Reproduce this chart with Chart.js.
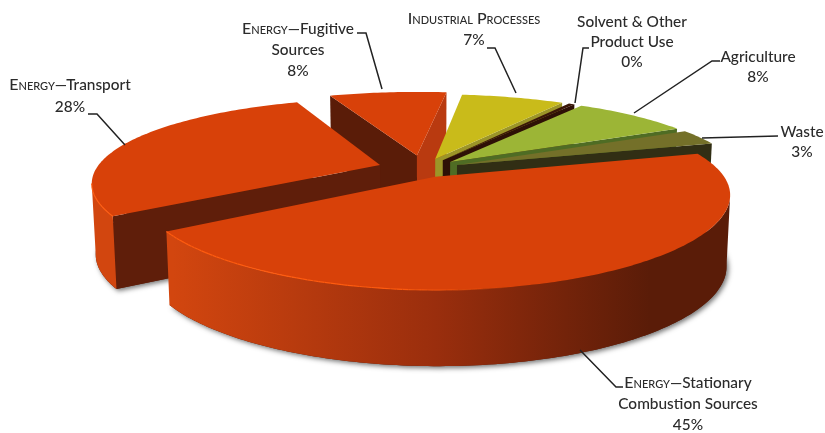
<!DOCTYPE html>
<html>
<head>
<meta charset="utf-8">
<title>Emissions by source</title>
<script src="https://cdn.jsdelivr.net/npm/chart.js@4/dist/chart.umd.min.js"></script>
<style>
  html, body { margin: 0; padding: 0; background: #fff; }
  canvas { display: block; }
</style>
</head>
<body>
<canvas id="sourcesPie" width="825" height="433"></canvas>
<script>
const categories = ['Energy—Stationary Combustion Sources', 'Energy—Transport', 'Energy—Fugitive Sources', 'Industrial Processes', 'Solvent & Other Product Use', 'Agriculture', 'Waste'];
const shares = [45, 28, 8, 7, 0.4, 8, 3];

// exploded distance of each slice, in hundredths of the radius
const explode = [10, 16, 17, 13, 13, 13, 13];

const topColors = ['#d84109', '#d84109', '#d84109', '#c9bb1a', '#3a1608', '#9cb536', '#747029'];
const startWallColors = ['#5a1c08', '#5f1e0a', '#5a1c08', '#8f8a2a', '#2e1006', '#46601f', '#312e14'];
const endWallColors = ['#5a1c08', '#5f1e0a', '#b93a10', '#9c9528', '#2e1006', '#4f6c24', '#312e14'];

// label block for each category: wrapped lines, centre x, first baseline, line step
const labelLines = [
    ['Energy—Stationary', 'Combustion Sources'],
    ['Energy—Transport'],
    ['Energy—Fugitive', 'Sources'],
    ['Industrial Processes'],
    ['Solvent & Other', 'Product Use'],
    ['Agriculture'],
    ['Waste']
];
const labelBoxes = [
    { x: 688, y: 388, step: 21 },
    { x: 70, y: 90, step: 22 },
    { x: 298, y: 34, step: 21 },
    { x: 474, y: 24, step: 21 },
    { x: 632, y: 27, step: 20 },
    { x: 758, y: 62, step: 20 },
    { x: 802, y: 137, step: 20 }
];
const smallCapsWords = ['Energy', 'Industrial Processes'];

const leaders = [
    [[623, 387], [616, 387], [580, 350]],
    [[88, 114], [97, 114], [125, 145]],
    [[357, 33], [366, 33], [382, 89]],
    [[487, 48], [495, 48], [516, 93]],
    [[589, 48], [583, 48], [575, 103]],
    [[720, 61], [712, 61], [634, 113]],
    [[778, 136], [702, 138]]
];

// tilt of the disc: screen half-axes at the centre, perspective strength, wall height
const AXIS_X = 284;
const AXIS_Y = 83.5;
const PERSPECTIVE_X = 0.19;
const PERSPECTIVE_Y = 0.227;
const WALL_HEIGHT = 70;

function project(arc, px, py, lower) {
    let dx = AXIS_X * px / (1 - PERSPECTIVE_X * py);
    let dy = AXIS_Y * py / (1 - PERSPECTIVE_Y * py);
    if (lower) {
        dx *= 0.988;
        dy += WALL_HEIGHT * (1 + 0.08 * py);
    }
    return { x: arc.x + dx, y: arc.y + dy };
}

function quad(ctx, a, b, c, d, color) {
    ctx.fillStyle = color;
    ctx.beginPath();
    ctx.moveTo(a.x, a.y);
    ctx.lineTo(b.x, b.y);
    ctx.lineTo(c.x, c.y);
    ctx.lineTo(d.x, d.y);
    ctx.closePath();
    ctx.fill();
}

function drawSlice(ctx, arc, index) {
    const mid = (arc.startAngle + arc.endAngle) / 2;
    const e = arc.options.offset / 100;
    const ox = e * Math.cos(mid);
    const oy = e * Math.sin(mid);
    const steps = Math.max(2, Math.ceil((arc.endAngle - arc.startAngle) * 180 / Math.PI));

    const top = [];
    const bottom = [];
    for (let i = 0; i <= steps; i++) {
        const a = arc.startAngle + (arc.endAngle - arc.startAngle) * i / steps;
        top.push(project(arc, ox + Math.cos(a), oy + Math.sin(a), false));
        bottom.push(project(arc, ox + Math.cos(a), oy + Math.sin(a), true));
    }
    const apexTop = project(arc, ox, oy, false);
    const apexBottom = project(arc, ox, oy, true);

    // soft shadow under the slab
    ctx.save();
    ctx.shadowColor = 'rgba(0,0,0,0.55)';
    ctx.shadowBlur = 5;
    ctx.shadowOffsetX = 2;
    ctx.shadowOffsetY = 2;
    ctx.fillStyle = endWallColors[index];
    ctx.beginPath();
    ctx.moveTo(apexBottom.x, apexBottom.y);
    bottom.forEach(p => ctx.lineTo(p.x, p.y));
    ctx.closePath();
    ctx.fill();
    ctx.restore();

    // only walls whose top edge runs right to left face the viewer
    const first = top[0];
    const last = top[steps];
    if (first.x < apexTop.x) {
        quad(ctx, apexTop, first, bottom[0], apexBottom, startWallColors[index]);
    }
    if (apexTop.x < last.x) {
        quad(ctx, last, apexTop, apexBottom, bottom[steps], endWallColors[index]);
    }

    // outer rim, darker from left to right
    let from = -1;
    let to = -1;
    for (let i = 0; i < steps; i++) {
        if (top[i + 1].x < top[i].x) {
            if (from < 0) from = i;
            to = i + 1;
        }
    }
    if (from >= 0) {
        const shade = ctx.createLinearGradient(173, 0, 650, 0);
        shade.addColorStop(0, '#d2460f');
        shade.addColorStop(0.55, '#9a2e0d');
        shade.addColorStop(1, '#5a1c08');
        ctx.fillStyle = shade;
        ctx.beginPath();
        ctx.moveTo(top[from].x, top[from].y);
        for (let i = from + 1; i <= to; i++) ctx.lineTo(top[i].x, top[i].y);
        for (let i = to; i >= from; i--) ctx.lineTo(bottom[i].x, bottom[i].y);
        ctx.closePath();
        ctx.fill();
    }

    ctx.fillStyle = arc.options.backgroundColor;
    ctx.beginPath();
    ctx.moveTo(apexTop.x, apexTop.y);
    top.forEach(p => ctx.lineTo(p.x, p.y));
    ctx.closePath();
    ctx.fill();

    // bright lip along the lit part of the rim
    ctx.lineWidth = 1.2;
    for (let i = 0; i < steps; i++) {
        if (top[i + 1].x < top[i].x && top[i].x < arc.x + 100) {
            const fade = Math.min(1, (arc.x + 100 - top[i].x) / 120);
            ctx.strokeStyle = 'rgba(255,92,16,' + fade.toFixed(2) + ')';
            ctx.beginPath();
            ctx.moveTo(top[i].x, top[i].y);
            ctx.lineTo(top[i + 1].x, top[i + 1].y);
            ctx.stroke();
        }
    }
}

function drawTextLine(ctx, text, cx, y) {
    const word = smallCapsWords.find(w => text.startsWith(w));
    const head = word || '';
    const tail = text.slice(head.length);
    ctx.textAlign = 'left';
    ctx.textBaseline = 'alphabetic';
    ctx.font = 'small-caps 500 16px Lato';
    const headWidth = head ? ctx.measureText(head).width : 0;
    ctx.font = '500 15.4px Lato';
    const tailWidth = ctx.measureText(tail).width;
    let x = cx - (headWidth + tailWidth) / 2;
    if (head) {
        ctx.font = 'small-caps 500 16px Lato';
        ctx.fillText(head, x, y);
        x += headWidth;
    }
    ctx.font = '500 15.4px Lato';
    ctx.fillText(tail, x, y);
}

// replaces the flat arcs with tilted slabs, leaders and labels
const tiltedPie = {
    id: 'tiltedPie',
    beforeDatasetsDraw(chart) {
        const ctx = chart.ctx;
        const arcs = chart.getDatasetMeta(0).data;
        const order = arcs.map((arc, i) => i).sort((a, b) => {
            const midA = (arcs[a].startAngle + arcs[a].endAngle) / 2;
            const midB = (arcs[b].startAngle + arcs[b].endAngle) / 2;
            return Math.sin(midA) - Math.sin(midB);
        });
        order.forEach(i => drawSlice(ctx, arcs[i], i));

        ctx.strokeStyle = '#222';
        ctx.lineWidth = 1.5;
        leaders.forEach(points => {
            ctx.beginPath();
            points.forEach((p, i) => i ? ctx.lineTo(p[0], p[1]) : ctx.moveTo(p[0], p[1]));
            ctx.stroke();
        });

        ctx.fillStyle = '#2b2b2b';
        categories.forEach((name, i) => {
            const box = labelBoxes[i];
            const lines = labelLines[i].concat(shares[i].toFixed(0) + '%');
            lines.forEach((line, n) => drawTextLine(ctx, line, box.x, box.y + n * box.step));
        });
        return false;
    }
};

new Chart(document.getElementById('sourcesPie').getContext('2d'), {
    type: 'pie',
    data: {
        labels: categories,
        datasets: [{
            data: shares,
            backgroundColor: topColors,
            offset: explode,
            borderWidth: 0
        }]
    },
    options: {
        responsive: false,
        animation: false,
        events: [],
        rotation: 73.7,
        layout: { padding: { left: 21, bottom: 95 } },
        plugins: {
            legend: { display: false },
            tooltip: { enabled: false }
        }
    },
    plugins: [tiltedPie]
});
</script>
</body>
</html>
